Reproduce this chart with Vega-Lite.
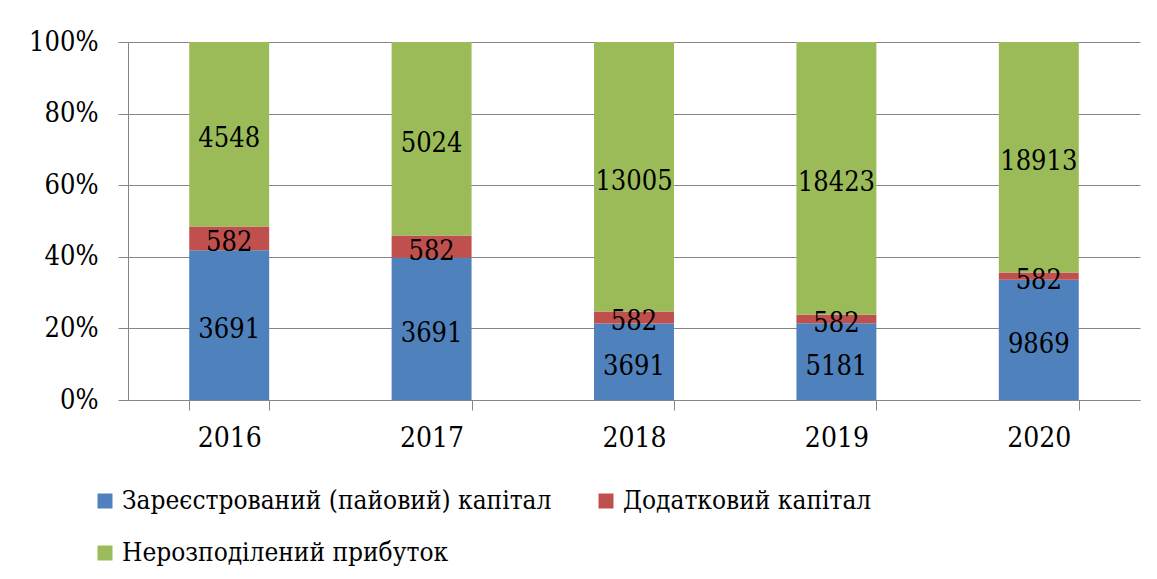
{
  "$schema": "https://vega.github.io/schema/vega-lite/v6.json",
  "width": 1012,
  "height": 358,
  "autosize": {"type": "none"},
  "padding": {"left": 128, "top": 42, "right": 17, "bottom": 179},
  "background": "white",
  "config": {"view": {"stroke": null}, "font": "DejaVu Serif Condensed"},
  "data": {
    "values": [
      {"year": "2016", "series": "Зареєстрований (пайовий) капітал", "ord": 1, "value": 3691},
      {"year": "2016", "series": "Додатковий капітал", "ord": 2, "value": 582},
      {"year": "2016", "series": "Нерозподілений прибуток", "ord": 3, "value": 4548},
      {"year": "2017", "series": "Зареєстрований (пайовий) капітал", "ord": 1, "value": 3691},
      {"year": "2017", "series": "Додатковий капітал", "ord": 2, "value": 582},
      {"year": "2017", "series": "Нерозподілений прибуток", "ord": 3, "value": 5024},
      {"year": "2018", "series": "Зареєстрований (пайовий) капітал", "ord": 1, "value": 3691},
      {"year": "2018", "series": "Додатковий капітал", "ord": 2, "value": 582},
      {"year": "2018", "series": "Нерозподілений прибуток", "ord": 3, "value": 13005},
      {"year": "2019", "series": "Зареєстрований (пайовий) капітал", "ord": 1, "value": 5181},
      {"year": "2019", "series": "Додатковий капітал", "ord": 2, "value": 582},
      {"year": "2019", "series": "Нерозподілений прибуток", "ord": 3, "value": 18423},
      {"year": "2020", "series": "Зареєстрований (пайовий) капітал", "ord": 1, "value": 9869},
      {"year": "2020", "series": "Додатковий капітал", "ord": 2, "value": 582},
      {"year": "2020", "series": "Нерозподілений прибуток", "ord": 3, "value": 18913}
    ]
  },
  "encoding": {
    "x": {
      "field": "year",
      "type": "nominal",
      "scale": {"paddingInner": 0.605, "paddingOuter": 0.3025},
      "axis": {
        "title": null,
        "labelAngle": 0,
        "tickBand": "extent",
        "tickSize": 10,
        "tickColor": "#868686",
        "domainColor": "#868686",
        "labelFont": "DejaVu Serif Condensed",
        "labelFontSize": 28,
        "labelColor": "black",
        "labelPadding": 14,
        "grid": false
      }
    }
  },
  "layer": [
    {
      "mark": {"type": "bar"},
      "encoding": {
        "y": {
          "field": "value",
          "type": "quantitative",
          "stack": "normalize",
          "scale": {"domain": [0, 1]},
          "axis": {
            "title": null,
            "format": ".0%",
            "values": [0, 0.2, 0.4, 0.6, 0.8, 1],
            "tickSize": 10,
            "tickColor": "#868686",
            "domainColor": "#868686",
            "gridColor": "#868686",
            "grid": true,
            "labelFont": "DejaVu Serif Condensed",
            "labelFontSize": 27,
            "labelColor": "black",
            "labelPadding": 20
          }
        },
        "color": {
          "field": "series",
          "type": "nominal",
          "scale": {
            "domain": ["Зареєстрований (пайовий) капітал", "Нерозподілений прибуток", "Додатковий капітал"],
            "range": ["#4F81BD", "#9BBB59", "#C0504D"]
          },
          "legend": {
            "title": null,
            "orient": "none",
            "legendX": -36,
            "legendY": 446,
            "columns": 2,
            "columnPadding": 41,
            "rowPadding": 26,
            "padding": 0,
            "symbolType": "square",
            "symbolSize": 225,
            "symbolStrokeWidth": 0,
            "labelFont": "DejaVu Serif Condensed",
            "labelFontSize": 26,
            "labelColor": "black",
            "labelOffset": 4,
            "labelLimit": 1000
          }
        },
        "order": {"field": "ord", "sort": "ascending"}
      }
    },
    {
      "mark": {"type": "text", "font": "DejaVu Serif Condensed", "fontSize": 27, "color": "black", "dy": 5},
      "encoding": {
        "y": {"field": "value", "type": "quantitative", "stack": "normalize", "bandPosition": 0.5},
        "detail": {"field": "series"},
        "order": {"field": "ord", "sort": "ascending"},
        "text": {"field": "value", "type": "quantitative"}
      }
    }
  ]
}
